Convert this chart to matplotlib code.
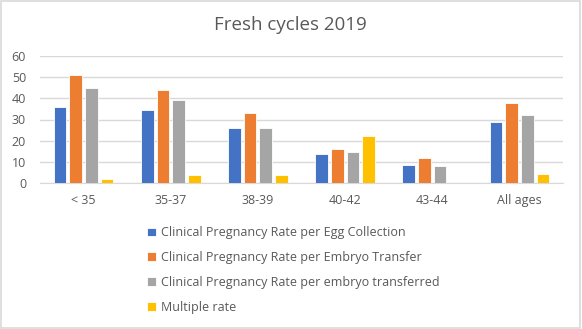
import numpy as np
import matplotlib.pyplot as plt
from matplotlib.patches import Rectangle

# Chart data
categories = ['< 35', '35-37', '38-39', '40-42', '43-44', 'All ages']
per_egg_collection = [36, 34.3, 26.1, 13.5, 8.7, 29]
per_embryo_transfer = [51, 44, 33, 15.9, 11.8, 37.6]
per_embryo_transferred = [45, 39.2, 26.1, 14.5, 8, 32]
multiple_rate = [1.9, 3.6, 3.9, 22, 0, 4.2]

series_names = ['Clinical Pregnancy Rate per Egg Collection',
                'Clinical Pregnancy Rate per Embryo Transfer',
                'Clinical Pregnancy Rate per embryo transferred',
                'Multiple rate']
colors = ['#4472C4', '#ED7D31', '#A5A5A5', '#FFC000']
series = [per_egg_collection, per_embryo_transfer, per_embryo_transferred, multiple_rate]

plt.rcParams['font.family'] = ['Open Sans', 'DejaVu Sans']
txt = '#595959'

fig = plt.figure(figsize=(5.82, 3.29), dpi=100)
# plot area in pixels: x 40..563, y 56..183 (from top)
ax = fig.add_axes([40 / 582, 1 - 183 / 329, 523 / 582, 127 / 329])

x = np.arange(len(categories))
step = 0.18
width = 0.145
for i, (vals, col) in enumerate(zip(series, colors)):
    ax.bar(x + (i - 1.5) * step, vals, width, color=col, edgecolor='white',
           linewidth=0.6, label=series_names[i], zorder=3)

ax.set_xlim(-0.5, len(categories) - 0.5)
ax.set_ylim(0, 60)
ax.set_yticks(range(0, 61, 10))
ax.grid(axis='y', color='#D9D9D9', linewidth=1, zorder=0)
for s in ['top', 'right', 'left']:
    ax.spines[s].set_visible(False)
ax.spines['bottom'].set_color('#D9D9D9')
ax.tick_params(axis='both', length=0, colors=txt, labelsize=9)
ax.tick_params(axis='y', pad=10)
ax.tick_params(axis='x', pad=8)
ax.set_xticks(x)
ax.set_xticklabels(categories)

fig.text(290 / 582, 1 - 25 / 329, 'Fresh cycles 2019', ha='center', va='center',
         fontsize=13.5, color=txt)

fig.legend(loc='upper left', bbox_to_anchor=(136 / 582, 1 - 215 / 329), frameon=False,
           fontsize=9, labelcolor=txt, handlelength=0.7, handleheight=0.7,
           handletextpad=0.4, labelspacing=0.95)

# outer chart border
fig.patches.append(Rectangle((0.002, 0.003), 0.995, 0.994, transform=fig.transFigure,
                             fill=False, edgecolor='#D9D9D9', linewidth=1.2))

fig.savefig('out.png', dpi=100)
